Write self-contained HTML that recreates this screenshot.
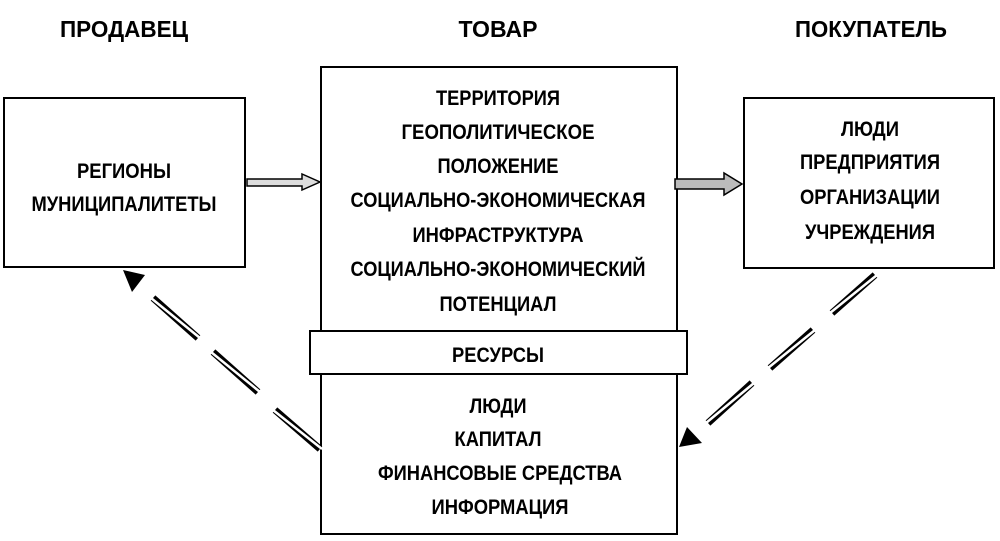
<!DOCTYPE html>
<html><head><meta charset="utf-8"><style>
body{margin:0;background:#fff;}
svg text{font-family:"Liberation Sans",sans-serif;font-weight:bold;font-size:21px;fill:#000;text-anchor:middle;}
svg text.h{font-size:23px;}
</style></head><body>
<svg width="1000" height="536" xmlns="http://www.w3.org/2000/svg">
<rect x="0" y="0" width="1000" height="536" fill="#fff"/>
<text class="h" x="124" y="37" textLength="128" lengthAdjust="spacingAndGlyphs">ПРОДАВЕЦ</text>
<text class="h" x="498" y="37" textLength="79" lengthAdjust="spacingAndGlyphs">ТОВАР</text>
<text class="h" x="871" y="37" textLength="152" lengthAdjust="spacingAndGlyphs">ПОКУПАТЕЛЬ</text>

<rect x="4" y="98" width="241" height="169" fill="#fff" stroke="#000" stroke-width="2"/>
<text x="124" y="178" textLength="94" lengthAdjust="spacingAndGlyphs">РЕГИОНЫ</text>
<text x="124" y="211" textLength="185" lengthAdjust="spacingAndGlyphs">МУНИЦИПАЛИТЕТЫ</text>

<rect x="321" y="67" width="356" height="467" fill="#fff" stroke="#000" stroke-width="2"/>
<text x="498" y="105" textLength="124" lengthAdjust="spacingAndGlyphs">ТЕРРИТОРИЯ</text>
<text x="498" y="139" textLength="193" lengthAdjust="spacingAndGlyphs">ГЕОПОЛИТИЧЕСКОЕ</text>
<text x="498" y="173" textLength="121" lengthAdjust="spacingAndGlyphs">ПОЛОЖЕНИЕ</text>
<text x="498" y="207" textLength="295" lengthAdjust="spacingAndGlyphs">СОЦИАЛЬНО-ЭКОНОМИЧЕСКАЯ</text>
<text x="498" y="242" textLength="171" lengthAdjust="spacingAndGlyphs">ИНФРАСТРУКТУРА</text>
<text x="498" y="276" textLength="295" lengthAdjust="spacingAndGlyphs">СОЦИАЛЬНО-ЭКОНОМИЧЕСКИЙ</text>
<text x="498" y="311" textLength="117" lengthAdjust="spacingAndGlyphs">ПОТЕНЦИАЛ</text>
<rect x="310" y="331" width="377" height="43" fill="#fff" stroke="#000" stroke-width="2"/>
<text x="498" y="362" textLength="92" lengthAdjust="spacingAndGlyphs">РЕСУРСЫ</text>
<text x="498" y="413" textLength="57" lengthAdjust="spacingAndGlyphs">ЛЮДИ</text>
<text x="498" y="446" textLength="87" lengthAdjust="spacingAndGlyphs">КАПИТАЛ</text>
<text x="500" y="480" textLength="244" lengthAdjust="spacingAndGlyphs">ФИНАНСОВЫЕ СРЕДСТВА</text>
<text x="500" y="514" textLength="137" lengthAdjust="spacingAndGlyphs">ИНФОРМАЦИЯ</text>

<rect x="744" y="98" width="250" height="170" fill="#fff" stroke="#000" stroke-width="2"/>
<text x="870" y="136" textLength="58" lengthAdjust="spacingAndGlyphs">ЛЮДИ</text>
<text x="870" y="169" textLength="140" lengthAdjust="spacingAndGlyphs">ПРЕДПРИЯТИЯ</text>
<text x="870" y="204" textLength="140" lengthAdjust="spacingAndGlyphs">ОРГАНИЗАЦИИ</text>
<text x="870" y="239" textLength="130" lengthAdjust="spacingAndGlyphs">УЧРЕЖДЕНИЯ</text>

<polygon points="247,179 302,179 302,174 320,182 302,190 302,186 247,186" fill="#ddd" stroke="#000" stroke-width="1.5"/>
<polygon points="675,179 724,179 724,173 742,184 724,195 724,189 675,189" fill="#bbb" stroke="#000" stroke-width="1.5"/>

<g stroke-linecap="butt">
<g stroke="#000" stroke-width="7">
<line x1="153" y1="298" x2="198" y2="338"/><line x1="213" y1="352" x2="258" y2="392"/><line x1="275" y1="410" x2="320" y2="449"/>
<line x1="875" y1="275" x2="832" y2="313"/><line x1="813" y1="330" x2="770" y2="368"/><line x1="752" y1="383" x2="708" y2="423"/>
</g>
<g stroke="#fff" stroke-width="2.5">
<line x1="151" y1="298" x2="200" y2="338"/><line x1="211" y1="352" x2="260" y2="392"/><line x1="273" y1="410" x2="322" y2="449"/>
<line x1="877" y1="275" x2="830" y2="313"/><line x1="815" y1="330" x2="768" y2="368"/><line x1="754" y1="383" x2="706" y2="423"/>
</g>
</g>
<polygon points="123,270 145,275 132,292" fill="#000"/>
<polygon points="679,447 687,427 702,443" fill="#000"/>
</svg>
</body></html>
